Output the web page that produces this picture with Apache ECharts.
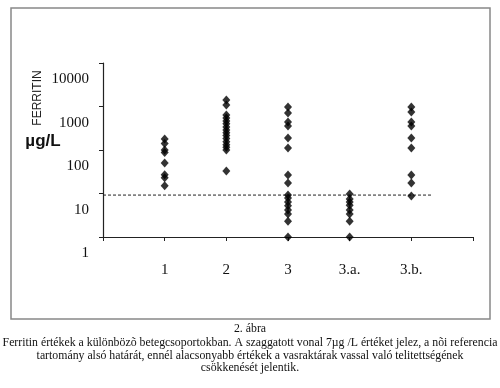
<!DOCTYPE html>
<html>
<head>
<meta charset="utf-8">
<script src="https://cdn.jsdelivr.net/npm/echarts@6/dist/echarts.min.js"></script>
<style>
html,body{margin:0;padding:0;background:#fff;}
#c{width:500px;height:388px;}
</style>
</head>
<body>
<div id="c"></div>
<script>
// ---- data ----
const categories = ['1', '2', '3', '3.a.', '3.b.'];
const yTickLabels = ['1', '10', '100', '1000', '10000'];
const group1  = [179, 141, 100, 88, 50, 27, 23, 15];
const group2  = [1410, 1080, 640, 545, 465, 400, 340, 290, 250, 215, 183, 155, 132, 115, 100, 33];
const group3  = [975, 710, 440, 356, 189, 111, 26.6, 17.4, 9.2, 7.9, 6.4, 5.2, 4.2, 3.4, 2.3, 1];
const group3a = [9.7, 7.5, 6.4, 5.4, 4.2, 3.4, 2.3, 1];
const group3b = [975, 750, 440, 356, 189, 111, 26.6, 17.4, 8.8];
const refLevel = 9.2;          // dashed reference line value
const refLineEnd = 5.35;       // x extent of dashed line (category units)
const captionTitle = '2. ábra';
const captionLines = [
  'Ferritin értékek a különbözõ betegcsoportokban. A szaggatott vonal 7\u00b5g /L értéket jelez, a nõi referencia',
  'tartomány alsó határát, ennél alacsonyabb értékek a vasraktárak vassal való telitettségének',
  'csökkenését jelentik.'
];

const groups = [group1, group2, group3, group3a, group3b];
const points = [];
groups.forEach((g, i) => g.forEach(v => points.push([i + 1, v])));

const chart = echarts.init(document.getElementById('c'), null, {renderer: 'canvas'});
const serif = '"Liberation Serif", "Times New Roman", serif';
const sans = '"Liberation Sans", Arial, sans-serif';
const capStyle = (t) => ({text: t, fontFamily: serif, fontSize: 11.8, fill: '#111',
                          textAlign: 'center', textVerticalAlign: 'middle'});

chart.setOption({
  backgroundColor: '#fff',
  animation: false,
  grid: {left: 103, right: 27, top: 63, bottom: 151},
  xAxis: {
    type: 'value', min: 0, max: 6, interval: 1,
    splitLine: {show: false},
    axisLine: {lineStyle: {color: '#222', width: 1.2}},
    axisTick: {length: 4, lineStyle: {color: '#222'}},
    axisLabel: {
      margin: 26, color: '#111', fontFamily: serif, fontSize: 15,
      formatter: v => (v >= 1 && v <= categories.length) ? categories[v - 1] : ''
    }
  },
  yAxis: {
    type: 'log', logBase: 10, min: 1, max: 10000,
    splitLine: {show: false},
    axisLine: {show: true, lineStyle: {color: '#222', width: 1.2}},
    axisTick: {show: true, length: 4, lineStyle: {color: '#222'}},
    axisLabel: {
      margin: 14, color: '#111', fontFamily: serif, fontSize: 15,
      formatter: v => {
        const idx = Math.round(Math.log10(v));
        return '{a|' + yTickLabels[idx] + '}';
      },
      rich: {a: {padding: [33, 0, 0, 0], fontFamily: serif, fontSize: 15, color: '#111'}}
    }
  },
  series: [
    {
      type: 'line',
      data: [[0, refLevel], [refLineEnd, refLevel]],
      symbol: 'none',
      lineStyle: {color: '#222', width: 1, type: [3, 2]},
      z: 1
    },
    {
      type: 'scatter',
      data: points,
      symbol: 'diamond',
      symbolSize: [8, 9],
      itemStyle: {color: '#000'},
      z: 3
    }
  ],
  graphic: [
    {type: 'rect', shape: {x: 11, y: 8, width: 479, height: 311},
     style: {fill: 'none', stroke: '#888', lineWidth: 1.5}, z: 0},
    {type: 'text', x: 38, y: 98, rotation: Math.PI / 2,
     style: {text: 'FERRITIN', fontFamily: sans, fontSize: 12, fill: '#222',
             textAlign: 'center', textVerticalAlign: 'middle'}},
    {type: 'text', x: 43, y: 141,
     style: {text: '\u00b5g/L', fontFamily: sans, fontSize: 17, fontWeight: 'bold', fill: '#111',
             textAlign: 'center', textVerticalAlign: 'middle'}},
    {type: 'text', x: 250, y: 329, style: capStyle(captionTitle)},
    {type: 'text', x: 250, y: 343, style: capStyle(captionLines[0])},
    {type: 'text', x: 250, y: 355.5, style: capStyle(captionLines[1])},
    {type: 'text', x: 250, y: 367.5, style: capStyle(captionLines[2])}
  ]
});
</script>
</body>
</html>
